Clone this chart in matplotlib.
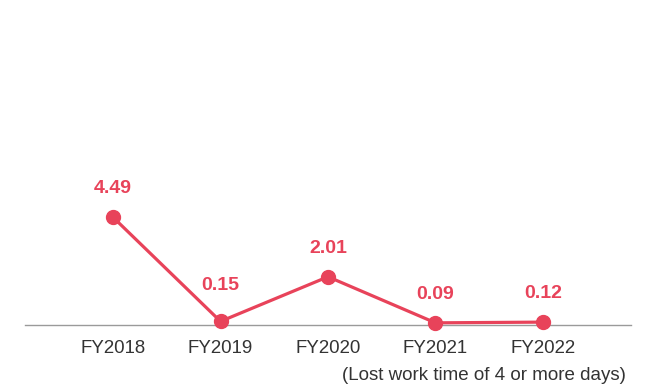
import matplotlib
matplotlib.use("Agg")
import matplotlib.pyplot as plt

years = ["FY2018", "FY2019", "FY2020", "FY2021", "FY2022"]
rates = [4.49, 0.15, 2.01, 0.09, 0.12]
value_labels = ["4.49", "0.15", "2.01", "0.09", "0.12"]
note = "(Lost work time of 4 or more days)"

RED = "#e8435a"
plt.rcParams["font.family"] = ["Liberation Sans", "DejaVu Sans"]

W, H = 665, 389
fig = plt.figure(figsize=(W / 100, H / 100), dpi=100)
ax_left, ax_right, ax_bottom, ax_top = 25, 631, 325, 10
ax = fig.add_axes([ax_left / W, (H - ax_bottom) / H,
                   (ax_right - ax_left) / W, (ax_bottom - ax_top) / H])

x = list(range(len(years)))
ax.plot(x, rates, color=RED, lw=2.3, marker="o", markersize=10,
        solid_capstyle="round", zorder=3, clip_on=False)

for xi, yi, lab in zip(x, rates, value_labels):
    dy = 26 if lab == "0.15" else 20.5
    ax.annotate(lab, (xi, yi), xytext=(0, dy), textcoords="offset points",
                ha="center", va="center", color=RED, fontsize=14,
                fontweight="bold")

ax.set_xlim(-0.819, 4.819)
ax.set_ylim(0, 315 / 24)

for s in ["top", "right", "left"]:
    ax.spines[s].set_visible(False)
ax.spines["bottom"].set_color("#9a9a9a")
ax.spines["bottom"].set_linewidth(1.0)
ax.set_yticks([])
ax.set_xticks(x)
ax.set_xticklabels(years, fontsize=13.4, color="#333333")
ax.tick_params(axis="x", length=0, pad=11)

fig.text(626 / W, 1 - 376 / H, note, ha="right", va="center",
         fontsize=13.5, color="#333333")

fig.savefig("out.png", dpi=100)
